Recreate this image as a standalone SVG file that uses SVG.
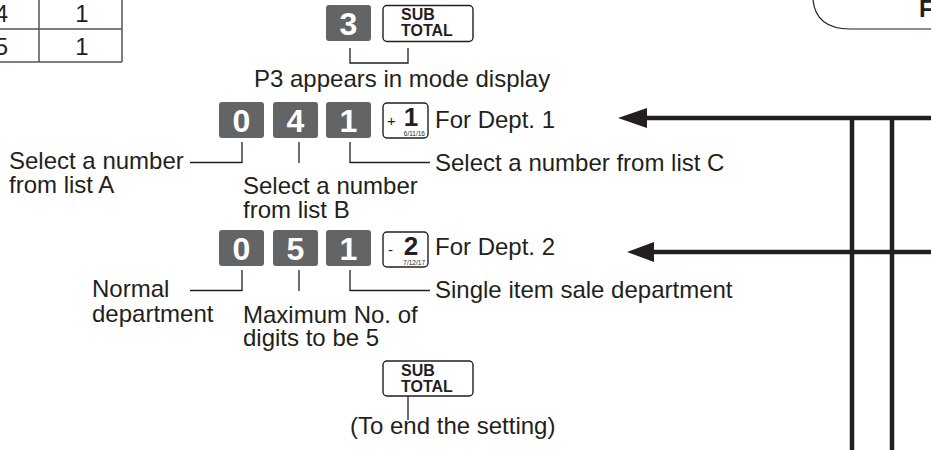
<svg xmlns="http://www.w3.org/2000/svg" width="931" height="450" viewBox="0 0 931 450">
<defs>
<style>
text{font-family:"Liberation Sans",Arial,sans-serif;fill:#231f20}
.t{font-size:24px}
.kd{fill:#636466}
.kdt{font-size:32px;font-weight:bold;fill:#fff;text-anchor:middle}
.ko{fill:#fff;stroke:#231f20;stroke-width:1.4}
.st{font-size:16px;font-weight:bold}
.ld{fill:none;stroke:#231f20;stroke-width:1.3}
.tb{fill:none;stroke:#555;stroke-width:1.5}
.heavy{fill:none;stroke:#231f20;stroke-width:4.5}
.ah{fill:#231f20}
</style>
</defs>
<rect width="931" height="450" fill="#fff"/>

<g id="table">
<line class="tb" x1="39" y1="0" x2="39" y2="62"/>
<line class="tb" x1="122" y1="0" x2="122" y2="62"/>
<line class="tb" x1="0" y1="29" x2="122" y2="29"/>
<line class="tb" x1="0" y1="62" x2="122" y2="62"/>
<text class="t" x="8" y="22" text-anchor="end">4</text>
<text class="t" x="82" y="22" text-anchor="middle">1</text>
<text class="t" x="8" y="55" text-anchor="end">5</text>
<text class="t" x="82" y="55" text-anchor="middle">1</text>
</g>

<g id="title-box">
<path d="M813,0 Q816,29 850,29 L931,29" fill="none" stroke="#231f20" stroke-width="1.2"/>
<text x="919" y="17" font-size="24" font-weight="bold">F</text>
</g>

<g id="step1">
<rect class="kd" x="326" y="5" width="45" height="36" rx="3"/>
<text class="kdt" x="348.5" y="34.5">3</text>
<rect class="ko" x="383" y="5.5" width="90" height="36" rx="4"/>
<text class="st" x="401" y="20">SUB</text>
<text class="st" x="401" y="36">TOTAL</text>
<text class="t" x="254" y="87">P3 appears in mode display</text>
</g>

<g id="step2">
<rect class="kd" x="219" y="102" width="45" height="36" rx="3"/>
<text class="kdt" x="241.5" y="131.5">0</text>
<rect class="kd" x="273" y="102" width="45" height="36" rx="3"/>
<text class="kdt" x="295.5" y="131.5">4</text>
<rect class="kd" x="326" y="102" width="45" height="36" rx="3"/>
<text class="kdt" x="348.5" y="131.5">1</text>
<rect class="ko" x="383" y="103" width="45" height="35" rx="4"/>
<text x="387" y="126" font-size="15">+</text>
<text x="411" y="125.5" font-size="26" font-weight="bold" text-anchor="middle">1</text>
<text x="425" y="136" font-size="6.5" text-anchor="end">6/11/16</text>
<text class="t" x="435" y="128">For Dept. 1</text>
<text class="t" x="9" y="169">Select a number</text>
<text class="t" x="9" y="193">from list A</text>
<text class="t" x="243" y="194">Select a number</text>
<text class="t" x="243" y="218">from list B</text>
<text class="t" x="435" y="171">Select a number from list C</text>
</g>

<g id="step3">
<rect class="kd" x="219" y="230" width="45" height="36" rx="3"/>
<text class="kdt" x="241.5" y="259.5">0</text>
<rect class="kd" x="273" y="230" width="45" height="36" rx="3"/>
<text class="kdt" x="295.5" y="259.5">5</text>
<rect class="kd" x="326" y="230" width="45" height="36" rx="3"/>
<text class="kdt" x="348.5" y="259.5">1</text>
<rect class="ko" x="383" y="232" width="45" height="35" rx="4"/>
<text x="388" y="255" font-size="15">-</text>
<text x="411" y="254.5" font-size="26" font-weight="bold" text-anchor="middle">2</text>
<text x="425" y="265" font-size="6.5" text-anchor="end">7/12/17</text>
<text class="t" x="435" y="255">For Dept. 2</text>
<text class="t" x="92" y="297">Normal</text>
<text class="t" x="92" y="322">department</text>
<text class="t" x="243" y="323">Maximum No. of</text>
<text class="t" x="243" y="346">digits to be 5</text>
<text class="t" x="435" y="298">Single item sale department</text>
</g>

<g id="step4">
<rect class="ko" x="383" y="361" width="90" height="35" rx="4"/>
<text class="st" x="401" y="375.5">SUB</text>
<text class="st" x="401" y="391.5">TOTAL</text>
<text class="t" x="350" y="434">(To end the setting)</text>
</g>

<g id="connectors">
<path class="ld" d="M350,48 V63 H408 V48"/>
<path class="ld" d="M190,162.5 H242 V142"/>
<line class="ld" x1="299" y1="142" x2="299" y2="163"/>
<path class="ld" d="M350,142 V162.5 H430"/>
<path class="ld" d="M190,290.5 H242 V270"/>
<line class="ld" x1="299" y1="270" x2="299" y2="291"/>
<path class="ld" d="M350,270 V290.5 H430"/>
<line class="ld" x1="408" y1="396" x2="408" y2="420"/>
<line class="heavy" x1="643" y1="118" x2="931" y2="118"/>
<polygon class="ah" points="618,118 647,108 647,128"/>
<line class="heavy" x1="650" y1="252" x2="931" y2="252"/>
<polygon class="ah" points="627,252 654,242 654,262"/>
<line class="heavy" x1="852" y1="116" x2="852" y2="450"/>
<line class="heavy" x1="892" y1="116" x2="892" y2="450"/>
</g>
</svg>
